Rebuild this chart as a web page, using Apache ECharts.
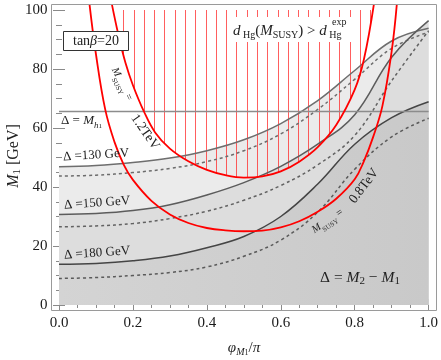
<!DOCTYPE html>
<html>
<head>
<meta charset="utf-8">
<script src="https://cdn.jsdelivr.net/npm/echarts@6/dist/echarts.min.js"></script>
<style>
  html, body { margin: 0; padding: 0; background: #fff; }
  #chart { width: 441px; height: 360px; }
</style>
</head>
<body>
<div id="chart"></div>
<script>
// phi_M1 / pi sampling for the Delta contours
const phiGrid = [0, 0.1, 0.2, 0.3, 0.4, 0.5, 0.6, 0.7, 0.8, 0.9, 1.0];
// M1 [GeV] on the contours (solid / dashed)
const d130Solid  = [46.9, 47.3, 48.3, 49.8, 52.3, 56.0, 61.5, 69.3, 79.5, 89.5, 93.8];
const d130Dashed = [43.7, 44.0, 44.9, 46.3, 48.6, 52.3, 58.0, 66.3, 76.5, 87.0, 92.5];
const d150Solid  = [30.7, 31.0, 32.0, 34.0, 37.3, 41.5, 47.0, 54.5, 64.5, 84.0, 96.4];
const d150Dashed = [26.5, 26.8, 27.6, 29.3, 31.8, 35.5, 40.5, 47.5, 57.5, 76.0, 93.0];
const d180Solid  = [13.8, 14.1, 15.0, 16.6, 19.4, 23.2, 30.0, 41.0, 54.5, 63.5, 68.9];
const d180Dashed = [9.0, 9.3, 10.0, 11.0, 12.9, 16.5, 22.0, 31.5, 46.0, 57.0, 63.3];
const mh1Level = 65.6;

// EDM bound contours, M_SUSY = 0.8 TeV and 1.2 TeV
const red08Phi = [0.0825, 0.1, 0.125, 0.15, 0.175, 0.2, 0.25, 0.3, 0.35, 0.4, 0.45, 0.5,
                  0.55, 0.6, 0.65, 0.7, 0.75, 0.8, 0.825, 0.85, 0.875, 0.9, 0.914];
const red08M1  = [102, 85, 66.3, 55.3, 47.6, 42.4, 35.3, 30.7, 27.8, 26.1, 25.3, 25.0,
                  25.2, 26.3, 28.4, 31.6, 36.0, 42.6, 48.8, 57.0, 67.5, 86.0, 102];
const red12Phi = [0.143, 0.16, 0.18, 0.2, 0.229, 0.26, 0.3, 0.35, 0.4, 0.45, 0.5,
                  0.55, 0.6, 0.65, 0.7, 0.75, 0.8, 0.825, 0.852];
const red12M1  = [102, 92, 82, 74.5, 65.8, 58.5, 53.0, 48.7, 45.8, 44.0, 43.2,
                  43.6, 45.3, 48.6, 53.5, 61.0, 73.0, 83.3, 102];

const xTickLabels = ["0.0", "0.2", "0.4", "0.6", "0.8", "1.0"];
const yTickLabels = ["0", "20", "40", "60", "80", "100"];

const serif = "'Liberation Serif', 'DejaVu Serif', serif";
const zip = (xs, ys) => xs.map((x, i) => [x, ys[i]]);

// vertical hatching pattern (spacing ~ 1/36 of the x range)
const hatch = document.createElement("canvas");
hatch.width = 72;
hatch.height = 8;
const hc = hatch.getContext("2d");
hc.fillStyle = "rgba(255,40,40,0.75)";
for (let j = 0; j < 7; j++) {
    hc.fillRect(Math.floor(0.32 + j * 72 / 7), 0, 1, 8);
}

const chart = echarts.init(document.getElementById("chart"));

const tickStyle = { color: "#8a8a8a", width: 1 };
const xBase = {
    type: "value", min: 0, max: 1, interval: 0.2,
    axisLine: { show: false },
    axisTick: { inside: true, length: 6, lineStyle: tickStyle },
    minorTick: { show: true, splitNumber: 4, length: 3, lineStyle: tickStyle },
    splitLine: { show: false },
};
const yBase = {
    type: "value", min: 0, max: 100, interval: 20,
    axisLine: { show: false },
    axisTick: { inside: true, length: 6, lineStyle: tickStyle },
    minorTick: { show: true, splitNumber: 4, length: 3, lineStyle: tickStyle },
    splitLine: { show: false },
};

const area = (data, color, z) => ({
    type: "line", data, smooth: 0.4, showSymbol: false, z,
    lineStyle: { width: 0 },
    areaStyle: { color, opacity: 1, origin: "start" },
});
const curve = (data, color, dashed, z) => ({
    type: "line", data, smooth: 0.4, showSymbol: false, z,
    lineStyle: { color, width: 1.5, type: dashed ? [3, 3] : "solid" },
});

const rich = (fs) => ({
    r: { fontSize: fs, fontFamily: serif, lineHeight: 18, fill: "#222" },
    i: { fontSize: fs, fontFamily: serif, fontStyle: "italic", lineHeight: 18, fill: "#222" },
    s: { fontSize: Math.round(fs * 0.68), fontFamily: serif, lineHeight: 10, verticalAlign: "bottom", fill: "#222" },
    si: { fontSize: Math.round(fs * 0.68), fontFamily: serif, fontStyle: "italic", lineHeight: 10, verticalAlign: "bottom", fill: "#222" },
    ss: { fontSize: Math.round(fs * 0.55), fontFamily: serif, lineHeight: 6, verticalAlign: "bottom", fill: "#222" },
});
const label = (x, y, text, fs, rot, align) => ({
    type: "text", x, y, z: 100,
    rotation: (rot || 0) * Math.PI / 180,
    style: {
        text, rich: rich(fs), fontSize: fs, fontFamily: serif,
        align: align || "center", verticalAlign: "middle", fill: "#222",
    },
});

const option = {
    animation: false,
    grid: { left: 59, right: 12, top: 10, bottom: 55 },
    xAxis: [
        Object.assign({}, xBase, {
            position: "bottom", offset: 5.5,
            axisLabel: {
                margin: 5, fontSize: 15, fontFamily: serif, color: "#1a1a1a",
                formatter: (v) => xTickLabels[Math.round(v / 0.2)],
            },
        }),
        Object.assign({}, xBase, { position: "top", offset: 5.5, axisLabel: { show: false } }),
    ],
    yAxis: [
        Object.assign({}, yBase, {
            position: "left", offset: 7.5,
            axisLabel: {
                margin: 4, fontSize: 15, fontFamily: serif, color: "#1a1a1a",
                formatter: (v) => yTickLabels[Math.round(v / 20)],
            },
        }),
        Object.assign({}, yBase, { position: "right", offset: 7.5, axisLabel: { show: false } }),
    ],
    series: [
        area(zip(phiGrid, d130Solid), "#ebebeb", 1),
        area(zip(phiGrid, d150Solid), "#dddddd", 1),
        area(zip(phiGrid, d180Solid), { type: "linear", x: 0, y: 0, x2: 1, y2: 0,
            colorStops: [{ offset: 0, color: "#d4d4d4" }, { offset: 1, color: "#c9c9c9" }] }, 1),
        {
            type: "line", data: zip(red12Phi, red12M1), smooth: 0.4, showSymbol: false, z: 2,
            lineStyle: { width: 0 },
            areaStyle: { color: { image: hatch, repeat: "repeat" }, opacity: 1, origin: "end" },
        },
        curve(zip(phiGrid, d130Dashed), "#6c6c6c", true, 3),
        curve(zip(phiGrid, d150Dashed), "#626262", true, 3),
        curve(zip(phiGrid, d180Dashed), "#5a5a5a", true, 3),
        curve(zip(phiGrid, d130Solid), "#6e6e6e", false, 3),
        curve(zip(phiGrid, d150Solid), "#5c5c5c", false, 3),
        curve(zip(phiGrid, d180Solid), "#454545", false, 3),
        {
            type: "line", data: [[0, mh1Level], [1, mh1Level]], showSymbol: false, z: 3,
            lineStyle: { color: "#8c8c8c", width: 1.5 },
        },
        {
            type: "line", data: zip(red08Phi, red08M1), smooth: 0.4, showSymbol: false, z: 4,
            clip: false, lineStyle: { color: "#ff0000", width: 1.8 },
        },
        {
            type: "line", data: zip(red12Phi, red12M1), smooth: 0.4, showSymbol: false, z: 4,
            clip: false, lineStyle: { color: "#ff0000", width: 1.8 },
        },
    ],
    graphic: [
        // plot frame
        { type: "rect", z: 90, shape: { x: 51.5, y: 4.5, width: 385, height: 306 },
          style: { fill: null, stroke: "#9a9a9a", lineWidth: 1 } },
        // tan beta box
        { type: "rect", z: 95, shape: { x: 63.5, y: 31.5, width: 65, height: 19 },
          style: { fill: "#fff", stroke: "#333", lineWidth: 1 } },
        label(96, 41, "{r|tan}{i|β}{r|=20}", 14),
        // white box behind the EDM label
        { type: "rect", z: 95, shape: { x: 229, y: 17, width: 130, height: 25 },
          style: { fill: "#fff" } },
        label(233, 31, "{i|d}{s| Hg}{r|(}{i|M}{s|SUSY}{r|) > }{i|d}{s| Hg}", 15, 0, "left"),
        label(332, 22, "{s|exp}", 15, 0, "left"),
        label(61, 121, "{r|Δ = }{i|M}{si|h}{ss|1}", 13, 0, "left"),
        label(96, 155, "{r|Δ =130 GeV}", 13, 3.5),
        label(97, 203, "{r|Δ =150 GeV}", 13, 4),
        label(97, 253, "{r|Δ =180 GeV}", 13, 4),
        label(122, 84, "{i|M}{s|SUSY}{r| =}", 10.5, -63.5),
        label(145, 132, "{r|1.2TeV}", 13.5, -55),
        label(327.5, 221, "{i|M}{s|SUSY}{r| =}", 10.5, 34.4),
        label(364, 186, "{r|0.8TeV}", 13.5, 52.5),
        label(360, 278, "{r|Δ = }{i|M}{s|2}{r| − }{i|M}{s|1}", 15.5),
        // axis titles
        label(244, 348, "{i|φ}{si|M}{ss|1}{r|/}{i|π}", 15),
        label(13.5, 156, "{i|M}{s|1}{r| [GeV]}", 16, 90),
    ],
};

chart.setOption(option);
</script>
</body>
</html>
